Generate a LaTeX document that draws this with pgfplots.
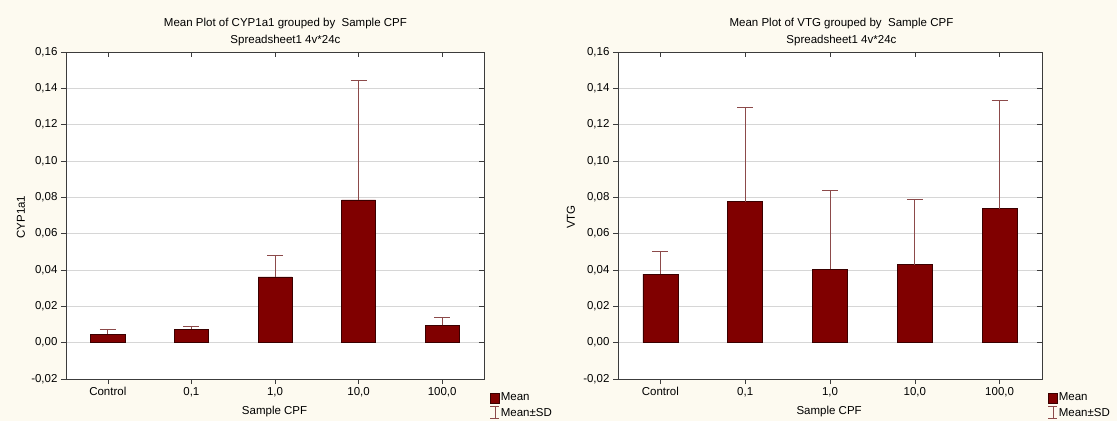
\documentclass[border=0pt]{standalone}
\usepackage{fontspec}
\setmainfont{Liberation Sans}
\usepackage{pgfplots}
\pgfplotsset{compat=1.18}
\definecolor{bg}{HTML}{FDFAF0}
\definecolor{barred}{HTML}{800000}
\definecolor{errc}{HTML}{8C4A4A}
\definecolor{gridc}{HTML}{D6D6D6}
\definecolor{axc}{HTML}{3C3C3C}

\pgfplotsset{
  basebox/.style={
    scale only axis, height=327bp,
    ymin=-0.02, ymax=0.16,
    ytick={-0.02,0,0.02,0.04,0.06,0.08,0.10,0.12,0.14,0.16},
    xmin=-0.5, xmax=4.5, xtick={0,1,2,3,4},
    tick style={axc, line width=0.6bp}, major tick length=5bp,
  },
  statstyle/.style={
    basebox,
    axis background/.style={fill=white},
    xticklabels={Control,{0,1},{1,0},{10,0},{100,0}},
    yticklabel style={/pgf/number format/.cd, fixed, fixed zerofill, precision=2, use comma, assume math mode=true},
    ymajorgrids, grid style={gridc, line width=0.8bp},
    axis line style={axc, line width=0.8bp},
    tick pos=left, tick align=outside,
    title style={align=center, font=\fontsize{11.5bp}{16.5bp}\selectfont, anchor=south, inner sep=0pt, yshift=0bp},
    xlabel style={anchor=center},
    ylabel style={anchor=center},
    legend style={draw=none, fill=none, anchor=north west, inner sep=0pt, outer sep=0pt,
      nodes={inner sep=1bp}, row sep=3bp,
      /tikz/every even column/.append style={column sep=1.5bp}},
    legend cell align=left,
  },
  mirrorticks/.style={
    basebox, xticklabels={}, yticklabels={},
    tick pos=right, tick align=inside,
    axis line style={draw=none},
  },
  errstyle/.style={
    ybar, bar width=#1, fill=barred, draw=black!55!barred, line width=0.6bp, forget plot,
    error bars/.cd, y dir=plus, y explicit,
    error bar style={errc, line width=0.8bp},
    error mark options={rotate=90, errc, mark size=8bp, line width=0.8bp}
  }
}

\begin{document}
\begin{tikzpicture}[font=\fontsize{11.5bp}{14bp}\selectfont]
\fill[bg] (0,0) rectangle (1117bp,421bp);

% Left panel
\begin{axis}[statstyle, width=418bp, at={(66bp,42bp)}, anchor=south west,
  title={Mean Plot of CYP1a1 grouped by\ \ Sample CPF\\Spreadsheet1 4v*24c},
  title style={at={(axis description cs:0.525,1)}},
  xlabel={Sample CPF}, xlabel style={at={(axis description cs:0.499,-0.098)}},
  ylabel={CYP1a1}, ylabel style={at={(axis description cs:-0.108,0.495)}},
  legend style={at={(axis description cs:1.0144,-0.04)}}]
\addplot[errstyle=34bp] coordinates {
  (0,0.0047) +- (0,0.0027)
  (1,0.0075) +- (0,0.0013)
  (2,0.0362) +- (0,0.0120)
  (3,0.0786) +- (0,0.0658)
  (4,0.0095) +- (0,0.0042)
};
\addlegendimage{legend image code/.code={\fill[barred, draw=black!55!barred] (0bp,-5bp) rectangle (9bp,5bp);}}
\addlegendentry{Mean}
\addlegendimage{legend image code/.code={\draw[errc, line width=0.8bp] (4.5bp,-6bp)--(4.5bp,6bp) (0bp,-6bp)--(9bp,-6bp) (0bp,6bp)--(9bp,6bp);}}
\addlegendentry{Mean±SD}
\end{axis}
\begin{axis}[mirrorticks, width=418bp, at={(66bp,42bp)}, anchor=south west]
\end{axis}

% Right panel
\begin{axis}[statstyle, width=424bp, at={(618bp,42bp)}, anchor=south west,
  title={Mean Plot of VTG grouped by\ \ Sample CPF\\Spreadsheet1 4v*24c},
  title style={at={(axis description cs:0.527,1)}},
  xlabel={Sample CPF}, xlabel style={at={(axis description cs:0.498,-0.098)}},
  ylabel={VTG}, ylabel style={at={(axis description cs:-0.111,0.495)}},
  legend style={at={(axis description cs:1.0142,-0.04)}}]
\addplot[errstyle=35bp] coordinates {
  (0,0.0377) +- (0,0.0125)
  (1,0.0776) +- (0,0.0520)
  (2,0.0405) +- (0,0.0433)
  (3,0.0429) +- (0,0.0360)
  (4,0.0737) +- (0,0.0594)
};
\addlegendimage{legend image code/.code={\fill[barred, draw=black!55!barred] (0bp,-5bp) rectangle (9bp,5bp);}}
\addlegendentry{Mean}
\addlegendimage{legend image code/.code={\draw[errc, line width=0.8bp] (4.5bp,-6bp)--(4.5bp,6bp) (0bp,-6bp)--(9bp,-6bp) (0bp,6bp)--(9bp,6bp);}}
\addlegendentry{Mean±SD}
\end{axis}
\begin{axis}[mirrorticks, width=424bp, at={(618bp,42bp)}, anchor=south west]
\end{axis}

\pgfresetboundingbox
\useasboundingbox (0,0) rectangle (1117bp,421bp);
\end{tikzpicture}
\end{document}
